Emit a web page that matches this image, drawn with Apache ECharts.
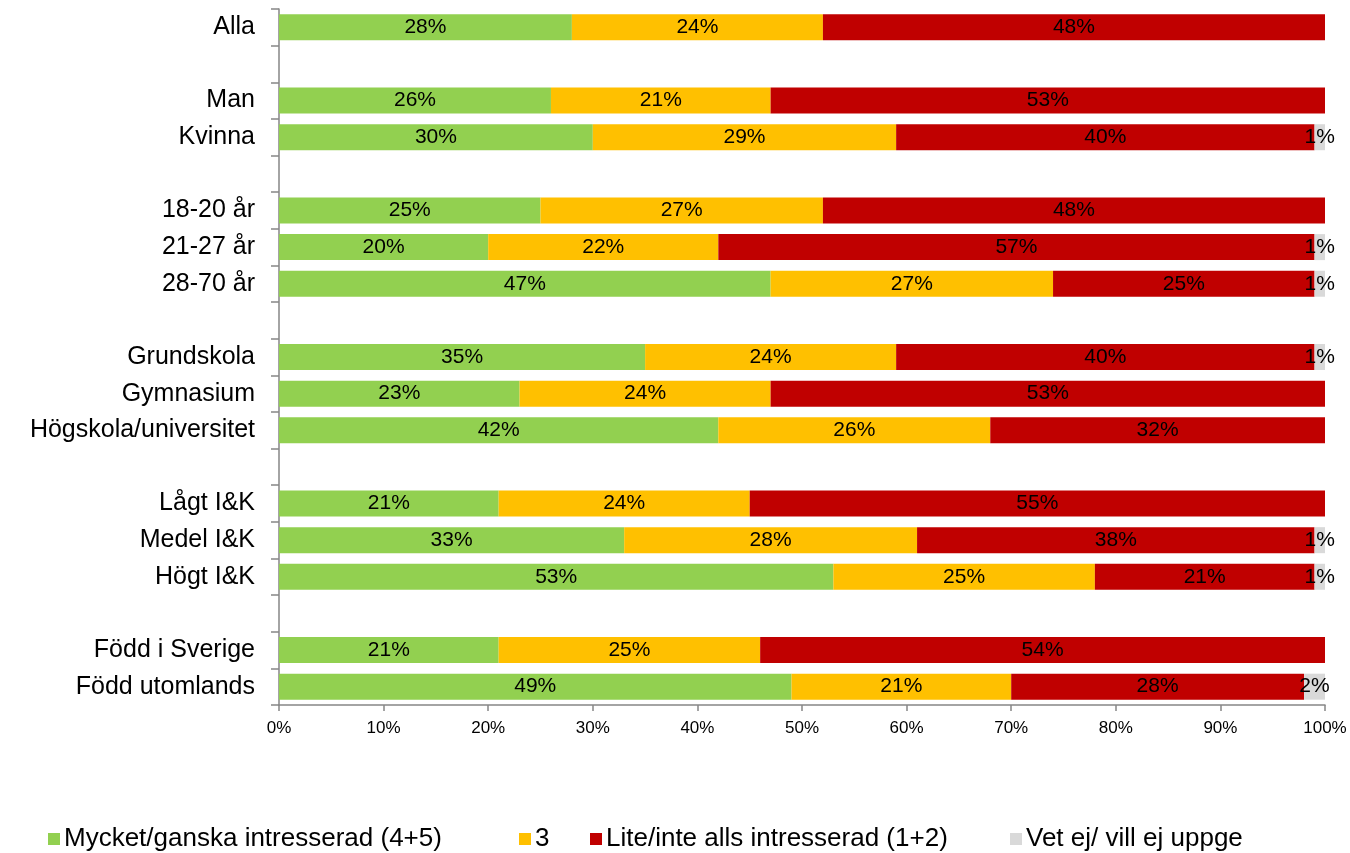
<!DOCTYPE html>
<html>
<head>
<meta charset="utf-8">
<script src="https://cdn.jsdelivr.net/npm/echarts@6/dist/echarts.min.js"></script>
<style>html,body{margin:0;padding:0;background:#fff;}#c{width:1350px;height:853px;}</style>
</head>
<body>
<div id="c"></div>
<script>
const categories = ['Alla', ' ', 'Man', 'Kvinna', '  ', '18-20 år', '21-27 år', '28-70 år', '   ', 'Grundskola', 'Gymnasium', 'Högskola/universitet', '    ', 'Lågt I&K', 'Medel I&K', 'Högt I&K', '     ', 'Född i Sverige', 'Född utomlands'];
const seriesNames = ['Mycket/ganska intresserad (4+5)', '3', 'Lite/inte alls intresserad (1+2)', 'Vet ej/ vill ej uppge'];
const mycket = [28, null, 26, 30, null, 25, 20, 47, null, 35, 23, 42, null, 21, 33, 53, null, 21, 49];
const tre    = [24, null, 21, 29, null, 27, 22, 27, null, 24, 24, 26, null, 24, 28, 25, null, 25, 21];
const lite   = [48, null, 53, 40, null, 48, 57, 25, null, 40, 53, 32, null, 55, 38, 21, null, 54, 28];
const vetej  = [0, null, 0, 1, null, 0, 1, 1, null, 1, 0, 0, null, 0, 1, 1, null, 0, 2];
const xTicks = [0, 10, 20, 30, 40, 50, 60, 70, 80, 90, 100];

const colors = ['#92D050', '#FFC000', '#C00000', '#D9D9D9'];
const values = [mycket, tre, lite, vetej];
const font = 'Liberation Sans, Arial, sans-serif';

const chart = echarts.init(document.getElementById('c'));
const series = values.map((d, i) => ({
  name: seriesNames[i],
  type: 'bar',
  stack: 'total',
  barWidth: 26,
  data: d,
  itemStyle: { color: colors[i] },
  label: {
    show: true,
    position: 'inside',
    color: '#000',
    fontFamily: font,
    fontSize: 21,
    formatter: p => (p.value ? p.value + '%' : '')
  },
  emphasis: { disabled: true }
}));
const legendLefts = [48, 519, 590, 1010];
const legends = seriesNames.map((n, i) => ({
  data: [n],
  left: legendLefts[i],
  top: 826,
  padding: 0,
  itemWidth: 12,
  itemHeight: 12,
  icon: 'rect',
  itemGap: 0,
  textStyle: { fontFamily: font, fontSize: 26, color: '#000', padding: [0, 0, 0, -1] }
}));
chart.setOption({
  animation: false,
  backgroundColor: '#fff',
  grid: { left: 279, right: 25, top: 9, bottom: 148 },
  legend: legends,
  xAxis: {
    type: 'value',
    min: xTicks[0],
    max: xTicks[xTicks.length - 1],
    interval: 10,
    axisLine: { show: true, lineStyle: { color: '#868686', width: 1.5 } },
    axisTick: { show: true, length: 6, lineStyle: { color: '#868686', width: 1.5 } },
    splitLine: { show: false },
    axisLabel: { formatter: '{value}%', color: '#000', fontFamily: font, fontSize: 17, margin: 15 }
  },
  yAxis: {
    type: 'category',
    inverse: true,
    data: categories,
    axisLine: { show: true, lineStyle: { color: '#868686', width: 1.5 } },
    axisTick: { show: true, length: 8, lineStyle: { color: '#868686', width: 1.5 } },
    axisLabel: { color: '#000', fontFamily: font, fontSize: 25, margin: 24 }
  },
  series: series
});
</script>
</body>
</html>
